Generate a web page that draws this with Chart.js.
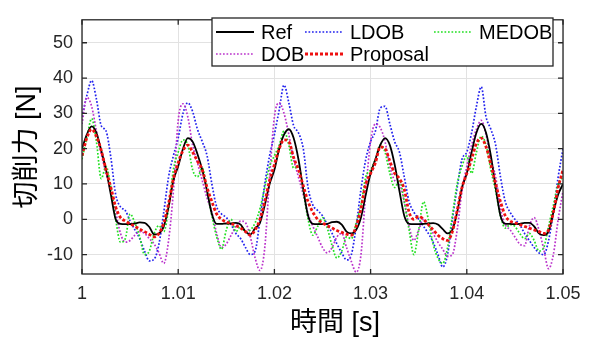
<!DOCTYPE html>
<html lang="ja">
<head>
  <meta charset="UTF-8">
  <title>切削力</title>
  <script src="https://cdn.jsdelivr.net/npm/chart.js"></script>
  <style>
    html, body { margin: 0; padding: 0; background: #fff; }
  </style>
</head>
<body>
  <canvas id="forceChart" width="595" height="342"></canvas>

  <script>
    // sampling grid: 0.5 ms steps from 1.000 s to 1.050 s
    const tStart = 1.0;
    const tStep = 0.0005;

    const xTicks = [1, 1.01, 1.02, 1.03, 1.04, 1.05];
    const xTickLabels = ['1', '1.01', '1.02', '1.03', '1.04', '1.05'];
    const yTicks = [-10, 0, 10, 20, 30, 40, 50];

    // values, one row per 10 ms period
    const refForce = [
      20, 24, 26.3, 24.5, 19.5, 14, 7, 0, -1.3, -1.4, -1.4, -1.2, -0.9, -1.0, -2.2, -4.3, -4.0, -2.0, 3.5, 11,
      15, 20, 23, 22, 18.5, 14, 8, 1.5, -1.3, -1.3, -1.2, -1.2, -1, -1.5, -3.5, -4.3, -2.5, -1, 4, 10,
      14, 20, 24, 25.5, 23, 17, 8.5, 1, -1.3, -1.4, -1.4, -1.3, -0.8, -0.7, -1.5, -3.5, -4, -3, 0.5, 7,
      13, 17, 21, 23, 21, 15.5, 8, 1, -1.3, -1.4, -1.4, -1.3, -1.2, -1.1, -1.5, -2.8, -4, -3, 2, 9,
      13, 19, 24.5, 27, 24.5, 18, 9, 1, -1.3, -1.3, -1.4, -1.3, -1, -1, -2, -4, -4.5, -3.5, 2, 7,
      10
    ];
    const ldobForce = [
      29, 35, 39.3, 34, 26.5, 25, 17.5, 7, 3.5, 2.5, -0.5, -3, -5.5, -9, -11.8, -11.3, -7, 2, 12, 18,
      23, 30, 33, 30.5, 25.5, 22, 18, 10, 3.5, 1.5, 0.5, -1.5, -4, -5.5, -8, -10, -9, 0, 10, 18,
      24, 31, 38, 33, 26.5, 24.5, 20, 9, 4, 2.5, 1, -1.5, -4, -7, -9.5, -11.5, -10, -2, 8.5, 17,
      22, 25, 31.5, 32, 27, 22, 19, 12, 5, 2, 0, -2, -4, -6.5, -10, -13.5, -10, 0, 9, 17,
      19, 24.5, 32, 37.5, 29, 25.5, 21, 12, 5, 2, 0, -1.5, -4, -6, -8, -9.5, -10, -6, 2, 12,
      20
    ];
    const medobForce = [
      17, 23, 28.5, 22, 11.5, 15, 9, 0, -6.5, -5.5, 1.5, -1, -5, -10, -9, -4, -1.8, -3.5, 3, 14,
      19, 22.5, 21, 14, 12, 14.5, 8, 1, -5, -8.5, -3, 0, -3.5, -2, -3.5, -3, -1, 3, 9, 15,
      18, 21, 25, 21, 14.5, 15, 8, 0, -4.5, -2, 0.5, -2.5, -7.5, -11, -9, -5, -5.5, -1, 4, 12,
      14, 17, 21, 19, 13, 9, 11, 5, -3, -10, -3, 5, 0, -7, -11, -12.5, -8, 1, 10, 15,
      18, 13, 19, 23.5, 21, 14, 8, 1, -2.5, -1.5, -2, -4, -5.5, -4, -6, -9, -8, -2, 4, 10,
      12
    ];
    const dobForce = [
      27, 34.5, 32, 25, 18.5, 13, 8, 2, -4, -6.5, -6, -4.5, -3.5, -4, -5.5, -7, -9.5, -12.5, -6, 8,
      28, 32.7, 29, 21, 16, 11, 6, 2, -4, -8, -7, -4.5, -2, -0.5, -1, -5, -11, -14.5, -8, 12,
      29, 33, 30, 24, 17, 12, 7, 1.5, -2, -5, -8, -9.5, -8, -5, -4, -8, -12, -15, -10, 8,
      22, 27, 26, 22, 15, 11, 10, 5, -2, -6, -3, 0, -1.5, -4, -6.5, -8.5, -10.5, -10, -3, 8,
      15, 21, 25.5, 28, 24, 17, 12, 3, -1.5, -3, -5, -7, -7.5, -2, 0.5, -3, -8.5, -14, -10, 0,
      8
    ];
    const proposalForce = [
      18, 23, 25.5, 23.5, 19.5, 14, 9, 3.5, 0.5, -0.5, -1.3, -2, -2.8, -3.5, -4.3, -5, -4, -1, 4.5, 11.5,
      16, 19.5, 21, 19, 16.5, 14, 9, 5, 1.5, 0, -0.8, -1.2, -1.8, -2.5, -3.5, -4.5, -3, 0, 5, 11,
      15.5, 20, 22.5, 22, 17.5, 14, 9.5, 5, 2, 0, -1, -1.8, -2.5, -3.2, -3.7, -4.2, -4.5, -2, 3, 10,
      13, 16, 20.5, 20, 16.5, 13, 11.5, 8.5, 2, 0, 0.8, 0, -1.5, -3, -4.5, -5.5, -6, -3.5, 2.5, 9,
      13, 17, 21.5, 23, 20.5, 15.5, 10, 5, 1, -0.5, -1, -1.5, -2, -2.5, -3, -3.5, -4, -3, 2, 9,
      14
    ];

    const toPoints = arr => arr.map((v, i) => ({ x: tStart + i * tStep, y: v }));

    const tickFont = { family: "'Liberation Sans', Arial, sans-serif", size: 18 };
    const textColor = '#262626';

    // frame with inward ticks on all four sides (drawn above the data)
    const framePlugin = {
      id: 'frame',
      afterDatasetsDraw(chart) {
        const { ctx, chartArea: a, scales } = chart;
        const tl = 5;
        ctx.save();
        ctx.strokeStyle = textColor;
        ctx.lineWidth = 1.3;
        ctx.strokeRect(a.left, a.top, a.right - a.left, a.bottom - a.top);
        ctx.beginPath();
        xTicks.forEach(v => {
          const px = scales.x.getPixelForValue(v);
          ctx.moveTo(px, a.bottom); ctx.lineTo(px, a.bottom - tl);
          ctx.moveTo(px, a.top); ctx.lineTo(px, a.top + tl);
        });
        yTicks.forEach(v => {
          const py = scales.y.getPixelForValue(v);
          ctx.moveTo(a.left, py); ctx.lineTo(a.left + tl, py);
          ctx.moveTo(a.right, py); ctx.lineTo(a.right - tl, py);
        });
        ctx.stroke();
        ctx.restore();
      }
    };

    // boxed legend, 3 columns, top right inside the axes
    const legendPlugin = {
      id: 'boxLegend',
      afterDraw(chart) {
        const ctx = chart.ctx;
        const box = { x: 212, y: 18, w: 341, h: 48 };
        const cols = [216, 305, 434];
        const rows = [32, 54];
        ctx.save();
        ctx.fillStyle = '#fff';
        ctx.fillRect(box.x, box.y, box.w, box.h);
        ctx.strokeStyle = textColor;
        ctx.lineWidth = 1.3;
        ctx.strokeRect(box.x, box.y, box.w, box.h);
        ctx.font = "20px 'Liberation Sans', Arial, sans-serif";
        ctx.textBaseline = 'middle';
        chart.data.datasets.forEach((ds, i) => {
          const cx = cols[i % 3];
          const cy = rows[Math.floor(i / 3)];
          ctx.strokeStyle = ds.borderColor;
          ctx.lineWidth = ds.borderWidth;
          ctx.setLineDash(ds.borderDash || []);
          ctx.beginPath();
          ctx.moveTo(cx, cy);
          ctx.lineTo(cx + 38, cy);
          ctx.stroke();
          ctx.setLineDash([]);
          ctx.fillStyle = '#000';
          ctx.fillText(ds.label, cx + 45, cy + 1);
        });
        ctx.restore();
      }
    };

    // axis titles
    const titlePlugin = {
      id: 'axisTitles',
      afterDraw(chart) {
        const ctx = chart.ctx;
        const a = chart.chartArea;
        ctx.save();
        ctx.fillStyle = '#000';
        ctx.font = "27px 'Liberation Sans', 'Noto Sans CJK JP', sans-serif";
        ctx.textAlign = 'center';
        ctx.textBaseline = 'middle';
        ctx.fillText('時間 [s]', 335, 324);
        ctx.translate(28, (a.top + a.bottom) / 2);
        ctx.rotate(-Math.PI / 2);
        ctx.fillText('切削力 [N]', 0, 0);
        ctx.restore();
      }
    };

    const ctx = document.getElementById('forceChart').getContext('2d');
    const forceChart = new Chart(ctx, {
      type: 'line',
      data: {
        datasets: [
          { label: 'Ref', data: toPoints(refForce), borderColor: '#000000', borderWidth: 1.8, order: 1 },
          { label: 'LDOB', data: toPoints(ldobForce), borderColor: '#2222ee', borderWidth: 1.7, borderDash: [1.7, 1.8], order: 4 },
          { label: 'MEDOB', data: toPoints(medobForce), borderColor: '#22e022', borderWidth: 1.7, borderDash: [1.7, 1.8], order: 2 },
          { label: 'DOB', data: toPoints(dobForce), borderColor: '#bb33cc', borderWidth: 1.7, borderDash: [1.7, 1.8], order: 3 },
          { label: 'Proposal', data: toPoints(proposalForce), borderColor: '#ee1111', borderWidth: 2.8, borderDash: [3, 2], order: 0 }
        ]
      },
      options: {
        responsive: false,
        animation: false,
        layout: { padding: { top: 9, right: 32, left: 0, bottom: 0 } },
        elements: {
          point: { radius: 0 },
          line: { cubicInterpolationMode: 'monotone', fill: false }
        },
        plugins: {
          legend: { display: false },
          tooltip: { enabled: false }
        },
        scales: {
          x: {
            type: 'linear',
            min: 1,
            max: 1.05,
            afterBuildTicks: s => { s.ticks = xTicks.map(v => ({ value: v })); },
            afterFit: s => { s.height = 68; },
            ticks: {
              autoSkip: false,
              maxRotation: 0,
              font: tickFont,
              color: textColor,
              padding: 9,
              callback: (v, i) => xTickLabels[i]
            },
            grid: { color: '#e2e2e2', drawTicks: false },
            border: { display: false }
          },
          y: {
            type: 'linear',
            min: -15.5,
            max: 56.5,
            afterBuildTicks: s => { s.ticks = yTicks.map(v => ({ value: v })); },
            afterFit: s => { s.width = 82; },
            ticks: {
              font: tickFont,
              color: textColor,
              padding: 9
            },
            grid: { color: '#e2e2e2', drawTicks: false },
            border: { display: false }
          }
        }
      },
      plugins: [framePlugin, legendPlugin, titlePlugin]
    });
  </script>
</body>
</html>
